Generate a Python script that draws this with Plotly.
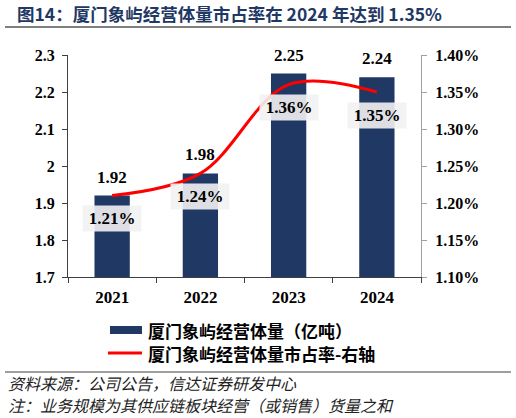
import plotly.graph_objects as go

years = ["2021", "2022", "2023", "2024"]
volume = [1.92, 1.98, 2.25, 2.24]          # 亿吨
share = [1.21, 1.24, 1.36, 1.35]           # %
left_ticks = [1.7, 1.8, 1.9, 2.0, 2.1, 2.2, 2.3]
left_ticktext = ["1.7", "1.8", "1.9", "2", "2.1", "2.2", "2.3"]
right_ticks = [1.10, 1.15, 1.20, 1.25, 1.30, 1.35, 1.40]
right_ticktext = ["1.10%", "1.15%", "1.20%", "1.25%", "1.30%", "1.35%", "1.40%"]

title_text = "图14：厦门象屿经营体量市占率在 2024 年达到 1.35%"
legend_bar = "厦门象屿经营体量（亿吨）"
legend_line = "厦门象屿经营体量市占率-右轴"
source_text = "资料来源：公司公告，信达证券研发中心"
note_text = "注：业务规模为其供应链板块经营（或销售）货量之和"

W, H = 516, 418
L, R, T, B = 68, 421, 55, 277
NAVY = "#1F3864"
SERIF = "Liberation Serif"
CJK = "Noto Sans CJK SC"


def px(x):
    return (x - L) / (R - L)


def py(y):
    return (B - y) / (B - T)


fig = go.Figure()
fig.add_trace(go.Bar(x=years, y=volume, marker=dict(color=NAVY, line=dict(width=0)),
                     width=0.4, name=legend_bar, showlegend=False, hoverinfo="skip"))
fig.add_trace(go.Scatter(x=years, y=share, yaxis="y2", mode="lines",
                         line=dict(color="#FF0000", width=3, shape="spline", smoothing=1.0),
                         name=legend_line, showlegend=False, hoverinfo="skip"))

ann = []
for i, v in enumerate(volume):
    ann.append(dict(x=i, y=v, xref="x", yref="y", text=f"{v:.2f}", showarrow=False,
                    yanchor="bottom", yshift=7,
                    font=dict(family=SERIF, size=17, color="#000", weight="bold")))
for i, v in enumerate(share):
    ann.append(dict(x=i, y=v, xref="x", yref="y2", text=f"{v:.2f}%", showarrow=False,
                    yanchor="middle", yshift=-23, bgcolor="rgba(242,242,242,0.9)",
                    width=52, height=19, borderpad=3,
                    font=dict(family=SERIF, size=17, color="#000", weight="bold")))

# legend (manual)
ann.append(dict(x=px(146), y=py(330), xref="paper", yref="paper", text=legend_bar,
                showarrow=False, xanchor="left", yanchor="middle",
                font=dict(family=CJK, size=17, color="#000", weight="bold")))
ann.append(dict(x=px(146), y=py(353), xref="paper", yref="paper", text=legend_line,
                showarrow=False, xanchor="left", yanchor="middle",
                font=dict(family=CJK, size=17, color="#000", weight="bold")))
# footer
ann.append(dict(x=px(6), y=py(383), xref="paper", yref="paper", text=source_text,
                showarrow=False, xanchor="left", yanchor="middle",
                font=dict(family=CJK, size=16, color="#222", style="italic")))
ann.append(dict(x=px(6), y=py(405), xref="paper", yref="paper", text=note_text,
                showarrow=False, xanchor="left", yanchor="middle",
                font=dict(family=CJK, size=16, color="#222", style="italic")))

shapes = [
    dict(type="line", xref="paper", yref="paper", x0=px(5), x1=px(511), y0=py(27), y1=py(27),
         line=dict(color="#7F7F7F", width=2)),
    dict(type="rect", xref="paper", yref="paper", x0=px(110), x1=px(142), y0=py(326), y1=py(334),
         fillcolor=NAVY, line=dict(width=0)),
    dict(type="line", xref="paper", yref="paper", x0=px(108), x1=px(142), y0=py(353), y1=py(353),
         line=dict(color="#FF0000", width=3)),
    dict(type="line", xref="paper", yref="paper", x0=px(5), x1=px(511), y0=py(372), y1=py(372),
         line=dict(color="#7F7F7F", width=1.5)),
]

fig.update_layout(
    width=W, height=H,
    margin=dict(l=L, r=W - R, t=T, b=H - B, pad=0, autoexpand=False),
    paper_bgcolor="white", plot_bgcolor="white",
    showlegend=False, hovermode=False,
    title=dict(text=title_text, x=17 / W, xanchor="left", y=1 - 15 / H, yanchor="middle",
               xref="container", yref="container",
               font=dict(family=CJK, size=17.5, color=NAVY, weight="bold")),
    xaxis=dict(type="category", range=[-0.5, len(years) - 0.5], autorange=False,
               showline=True, linecolor="#404040", linewidth=1,
               ticks="outside", tickson="boundaries", ticklen=5, tickcolor="#404040",
               tickfont=dict(family=SERIF, size=17, color="#000", weight="bold"),
               ticklabelstandoff=5, tickangle=0, showgrid=False, zeroline=False),
    yaxis=dict(range=[1.7, 2.3], autorange=False, tickvals=left_ticks, ticktext=left_ticktext,
               showline=True, linecolor="#404040", linewidth=1, ticks="outside",
               ticklen=5, tickcolor="#404040", showgrid=False, zeroline=False,
               ticklabelstandoff=4,
               tickfont=dict(family=SERIF, size=16, color="#000", weight="bold")),
    yaxis2=dict(range=[1.10, 1.40], autorange=False, tickvals=right_ticks, ticktext=right_ticktext,
                overlaying="y", side="right", showline=True, linecolor="#A0A0A0",
                linewidth=1, ticks="outside", ticklen=5, tickcolor="#A0A0A0",
                showgrid=False, zeroline=False, ticklabelstandoff=5,
                tickfont=dict(family=SERIF, size=16, color="#000", weight="bold")),
    annotations=ann,
    shapes=shapes,
)

fig.write_html("out.html", config={"displayModeBar": False},
               post_script="document.body.style.margin='0';")
